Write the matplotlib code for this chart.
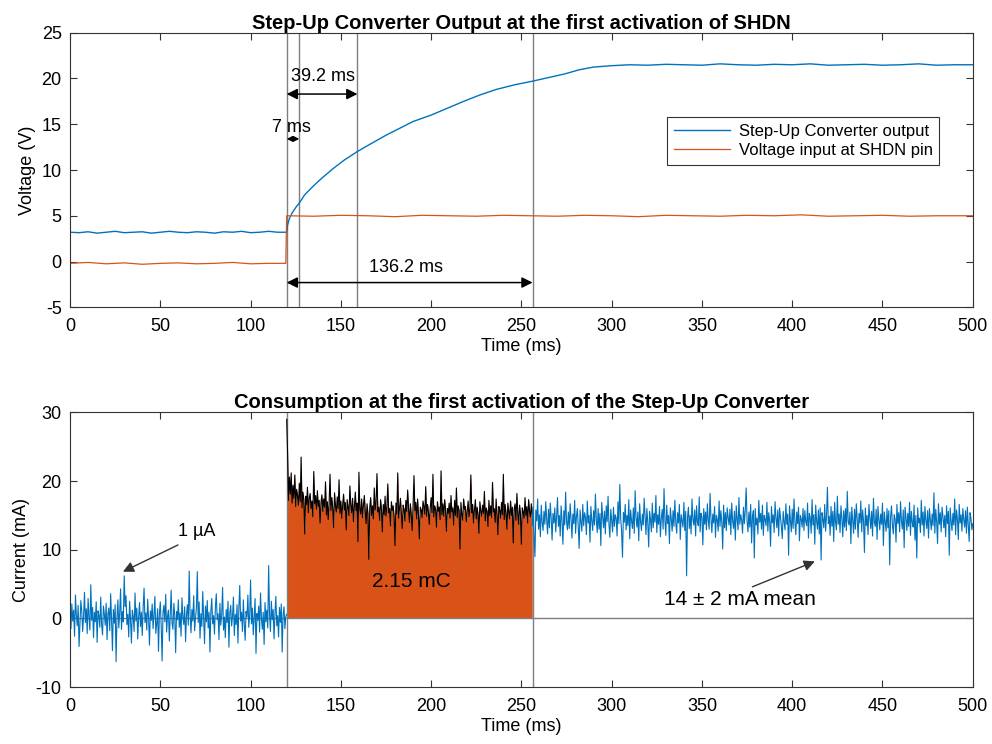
import numpy as np
import matplotlib.pyplot as plt

plt.rcParams['font.family'] = ['Liberation Sans', 'DejaVu Sans']
plt.rcParams['axes.unicode_minus'] = False

BLUE = '#0072BD'
RED = '#D95319'
GRID = '#7f7f7f'

# --- top panel: step-up converter output (V) ---
vt = [0, 5, 10, 15, 20, 25, 30, 35, 40, 45, 50, 55, 60, 65, 70, 75, 80, 85, 90,
      95, 100, 105, 110, 115, 119.5,
      120, 120.5, 121.5, 123, 125, 127, 130, 135, 140, 146, 152, 159, 166, 175,
      183, 190, 200, 209, 218, 227, 236, 246, 256, 265, 274, 282, 290, 300,
      310, 320, 330, 340, 350, 360, 370, 380, 390, 400, 410, 420, 430, 440,
      450, 460, 470, 480, 490, 500]
vout = [3.2, 3.15, 3.25, 3.1, 3.2, 3.3, 3.15, 3.2, 3.25, 3.1, 3.2, 3.3, 3.2,
        3.15, 3.25, 3.2, 3.1, 3.25, 3.2, 3.3, 3.15, 3.2, 3.3, 3.2, 3.2,
        3.2, 4.0, 4.7, 5.3, 5.9, 6.4, 7.3, 8.3, 9.2, 10.2, 11.1, 12.0, 12.8, 13.8,
        14.6, 15.3, 16.0, 16.75, 17.5, 18.2, 18.8, 19.3, 19.7, 20.1, 20.5, 20.95, 21.25, 21.4,
        21.5, 21.45, 21.55, 21.5, 21.45, 21.6, 21.5, 21.45, 21.55, 21.5, 21.6, 21.45,
        21.5, 21.55, 21.45, 21.5, 21.6, 21.45, 21.5, 21.5]
st = [0, 10, 20, 30, 40, 50, 60, 70, 80, 90, 100, 110, 119.5,
      120, 135, 150, 165, 180, 195, 210, 225, 240, 255, 270, 285, 300, 315,
      330, 345, 360, 375, 390, 405, 420, 435, 450, 465, 480, 500]
shdn = [-0.2, -0.1, -0.25, -0.15, -0.3, -0.2, -0.15, -0.25, -0.2, -0.1, -0.25, -0.2, -0.2,
        5.0, 4.95, 5.05, 5.0, 4.9, 5.05, 5.0, 4.95, 5.05, 5.0, 4.95, 5.05,
        5.0, 4.9, 5.05, 5.0, 4.95, 5.05, 5.0, 5.1, 4.95, 5.0, 5.05, 4.95, 5.0, 5.0]

v_marks = [120, 127, 159.2, 256.2]

# --- bottom panel: current consumption (mA), 0.5 ms steps ---
i_off = [
    0.8, -1.5, 2.1, -0.4, 1.2, -2.6, 3.4, 0.5, -1.1, 1.9, -4.1, -0.8, 2.6, 1.0, -1.9, 0.3, 3.8, -0.6, 1.4, -2.2,
    2.9, 0.2, -1.7, 4.9, -0.3, 1.6, -2.8, 0.9, -0.5, 2.4, -3.5, 1.1, 0.4, -1.3, 3.1, -0.9, -2.4, 1.8, 0.6, -1.0,
    2.2, -3.1, 0.7, 1.5, -1.8, 3.6, -0.2, -4.7, 1.3, -0.7, 2.0, -6.3, 0.1, 2.7, -1.4, 0.8, 4.3, -1.6, 1.0, -0.5,
    6.2, 1.7, 3.3, -0.9, 0.6, -2.7, 2.5, -0.1, -3.6, 1.2, 0.3, -1.9, 3.7, -0.4, 1.5, -3.0, 0.2, 2.3, -1.2, 0.9,
    -2.5, 1.6, 4.4, -0.6, 0.8, -1.7, 2.8, 0.1, -3.9, 1.1, -0.3, 2.1, -1.5, 0.5, 3.2, -2.2, -0.8, 1.4, -4.8, 0.7,
    2.4, -1.1, -6.2, 0.9, 1.9, -0.5, 3.5, -2.0, 0.3, 1.2, -3.3, 0.6, 4.1, -0.7, -1.6, 2.2, 0.4, -5.0, 1.0, -0.2,
    2.7, -1.3, 0.8, -2.6, 3.0, 0.2, -0.9, 1.7, -3.4, 0.5, 2.0, -1.0, 6.9, 0.6, -2.1, 1.3, -0.4, 3.3, -1.8, 0.1,
    1.5, 6.8, -0.6, 2.4, -2.9, 0.7, -1.2, 3.9, 0.3, -3.7, 1.8, -0.5, 2.6, -1.4, 0.9, -4.9, 1.1, 2.9, -0.8, 0.4,
    -2.3, 1.6, 3.6, -0.2, 0.7, -3.1, 2.2, -1.0, 0.5, 4.5, -1.7, 0.2, -2.8, 1.3, -0.6, 2.5, -4.2, 0.8, 1.9, -1.1,
    0.3, 3.1, -2.5, 0.6, -0.9, 2.0, -3.6, 1.4, 4.8, -0.4, 0.9, -1.9, 2.7, -0.7, -3.2, 1.0, 0.2, 3.4, -1.3, 0.5,
    5.6, -0.8, 1.5, -2.4, 0.4, 2.9, -5.1, 0.7, -0.3, 1.8, -2.0, 3.7, 0.1, -1.6, 0.9, -3.8, 2.3, -0.5, 1.2, -1.4,
    7.7, 0.6, -1.9, 2.5, -0.2, 1.3, -3.0, 0.8, 3.2, -1.1, 0.4, -2.7, 1.6, -0.6, 2.1, -4.9, 0.5, 1.7, -1.5, 0.3,
    0.6]
i_on = [
    29.0, 24.0, 17.2, 20.6, 18.1, 21.2, 16.8, 19.4, 17.5, 20.9, 16.3, 18.8, 17.9, 16.5, 19.7, 17.0, 23.5, 16.1, 18.4, 17.3,
    12.3, 17.8, 16.6, 19.1, 15.4, 17.5, 18.2, 16.0, 17.1, 14.8, 21.4, 16.7, 17.9, 15.9, 18.6, 16.3, 17.2, 13.9, 16.9, 18.0,
    15.6, 17.4, 16.2, 19.9, 15.1, 17.0, 14.4, 16.8, 21.0, 15.7, 17.6, 16.1, 13.2, 18.3, 16.4, 15.5, 17.7, 16.0, 20.2, 15.3,
    17.1, 14.6, 16.5, 18.1, 15.8, 16.9, 12.9, 17.3, 16.2, 15.0, 19.3, 16.6, 15.4, 17.5, 14.1, 16.3, 18.4, 15.7, 16.8, 11.2,
    21.3, 16.0, 15.2, 17.4, 14.7, 16.5, 17.9, 15.6, 13.8, 16.7, 15.3, 8.6, 16.1, 17.6, 15.0, 16.4, 14.5, 19.0, 15.8, 16.9,
    21.1, 15.5, 16.2, 14.3, 17.3, 15.9, 12.6, 16.6, 15.1, 17.8, 14.9, 16.3, 19.6, 15.4, 16.0, 13.5, 17.0, 15.7, 16.4, 14.8,
    10.6, 16.8, 15.2, 21.2, 14.6, 16.1, 17.5, 15.3, 13.1, 16.5, 15.9, 14.2, 17.2, 15.6, 18.7, 16.0, 14.0, 16.7, 15.1, 12.8,
    16.4, 20.8, 15.7, 16.9, 14.5, 17.4, 15.0, 11.6, 16.2, 15.8, 14.7, 17.1, 16.3, 15.2, 19.2, 14.9, 16.6, 15.5, 13.7, 16.1,
    17.6, 15.4, 21.0, 14.8, 16.4, 15.9, 13.3, 17.0, 15.6, 16.2, 14.4, 21.5, 15.1, 16.7, 14.9, 17.3, 15.8, 12.7, 16.0, 15.3,
    16.8, 14.6, 17.9, 15.5, 16.1, 13.6, 17.2, 15.0, 19.0, 14.7, 16.4, 15.7, 10.1, 16.9, 15.2, 14.3, 17.4, 15.9, 16.3, 14.1,
    15.6, 17.1, 14.8, 16.0, 20.9, 15.4, 16.6, 13.9, 15.8, 17.3, 14.5, 16.2, 15.1, 12.4, 17.0, 15.7, 14.9, 16.5, 15.3, 18.5,
    14.2, 16.1, 15.6, 13.4, 17.2, 15.0, 16.4, 14.7, 19.8, 15.5, 16.0, 14.0, 17.4, 15.2, 12.2, 16.3, 15.8, 14.6, 16.9, 15.1,
    21.0, 14.4, 16.6, 15.3, 13.0, 16.8, 15.7, 14.5, 17.1, 15.0, 16.2, 11.0, 15.9, 16.7, 14.3, 18.2, 15.4, 13.7, 16.5, 15.2,
    10.8, 16.1, 15.5, 14.6, 17.6, 15.0, 16.3, 13.9, 17.3, 15.6, 14.8, 16.7, 15.2]
i_after = [
    13.5, 16.2, 12.1, 9.0, 15.8, 14.2, 17.4, 13.0, 15.1, 11.9, 16.5, 14.0, 12.8, 15.6, 13.7, 17.0, 14.4, 12.3, 15.9, 13.2,
    16.8, 14.6, 11.4, 15.3, 13.9, 16.1, 12.6, 14.8, 17.6, 13.4, 15.0, 12.0, 16.4, 14.3, 10.8, 15.7, 13.6, 18.4, 14.1, 12.9,
    15.5, 13.1, 16.7, 14.5, 11.7, 15.2, 13.8, 17.2, 12.4, 14.9, 16.0, 13.3, 10.2, 15.8, 14.0, 12.7, 16.6, 13.5, 15.4, 14.7,
    12.2, 17.1, 13.9, 15.0, 11.1, 16.3, 14.2, 12.8, 15.7, 13.6, 18.1, 14.4, 12.5, 16.0, 13.0, 15.3, 10.6, 16.9, 14.8, 13.2,
    15.6, 12.3, 16.4, 14.1, 17.8, 13.7, 11.8, 15.9, 14.3, 12.6, 16.2, 13.4, 15.1, 14.6, 12.0, 17.0, 13.8, 19.5, 14.5, 12.7,
    8.9, 15.4, 14.0, 16.6, 12.9, 15.0, 13.5, 17.3, 11.6, 15.8, 14.2, 13.1, 16.1, 12.4, 18.6, 14.7, 13.3, 15.5, 11.3, 16.7,
    14.1, 12.8, 15.2, 13.6, 17.5, 14.9, 12.2, 16.0, 13.9, 10.4, 15.6, 14.4, 12.6, 16.8, 13.2, 15.3, 14.0, 17.9, 12.5, 15.1,
    13.7, 16.3, 11.9, 14.6, 15.9, 13.0, 18.9, 14.3, 12.1, 16.5, 13.8, 15.0, 10.9, 16.1, 14.5, 12.7, 15.7, 13.4, 17.2, 14.0,
    12.4, 15.4, 13.9, 16.6, 11.5, 15.1, 14.2, 13.3, 16.9, 12.8, 15.6, 6.2, 14.7, 16.2, 13.1, 15.0, 12.3, 17.4, 14.4, 13.6,
    15.8, 12.0, 16.4, 14.1, 13.5, 17.7, 12.6, 15.3, 14.8, 10.7, 16.0, 13.7, 15.5, 12.9, 16.7, 14.3, 13.0, 18.2, 14.6, 12.5,
    15.2, 13.9, 16.3, 11.8, 15.0, 14.4, 12.7, 17.1, 13.4, 15.7, 14.0, 10.1, 16.5, 13.2, 15.4, 12.8, 16.1, 14.7, 13.6, 15.9,
    12.2, 16.8, 14.2, 13.1, 15.6, 11.4, 16.4, 14.5, 12.9, 17.6, 13.7, 15.1, 14.3, 12.4, 16.2, 13.8, 15.8, 19.0, 14.1, 12.6,
    15.5, 13.3, 16.6, 11.0, 14.9, 15.7, 8.8, 16.0, 13.6, 14.6, 12.3, 17.2, 14.0, 15.3, 13.0, 16.5, 12.1, 15.0, 14.4, 13.5,
    16.9, 12.7, 15.4, 14.2, 10.5, 16.3, 13.9, 15.1, 12.5, 17.0, 14.6, 13.2, 15.8, 12.0, 16.1, 14.8, 13.4, 11.6, 15.6, 14.1,
    12.9, 16.7, 13.7, 15.2, 9.2, 16.4, 14.3, 12.6, 15.9, 13.1, 17.4, 14.0, 12.2, 15.5, 13.8, 16.2, 11.3, 15.0, 14.5, 13.3,
    16.0, 12.8, 15.7, 14.1, 13.5, 16.8, 11.7, 15.3, 14.7, 12.4, 17.3, 13.6, 15.1, 10.8, 16.5, 14.2, 13.0, 15.8, 12.3, 16.1,
    8.5, 15.4, 14.4, 13.2, 16.6, 12.7, 15.0, 19.1, 13.8, 14.9, 12.1, 16.3, 13.4, 15.6, 11.2, 16.9, 14.0, 12.9, 17.8, 13.7,
    15.2, 12.5, 16.4, 14.6, 11.9, 15.7, 13.3, 16.0, 12.8, 18.5, 14.1, 13.6, 15.5, 10.9, 16.2, 14.3, 12.4, 15.9, 13.0, 16.7,
    14.5, 11.8, 15.3, 13.9, 17.1, 12.6, 15.8, 14.2, 9.6, 16.1, 13.5, 15.0, 12.2, 16.6, 14.7, 13.1, 15.6, 12.0, 17.5, 14.0,
    13.4, 15.9, 11.5, 16.3, 14.4, 12.9, 15.2, 13.7, 16.8, 10.6, 15.5, 14.1, 12.7, 16.0, 13.2, 15.7, 7.8, 14.8, 16.4, 13.6,
    12.3, 15.1, 14.5, 11.1, 16.6, 13.8, 15.4, 12.6, 17.0, 14.2, 13.0, 15.8, 10.3, 16.2, 14.7, 12.8, 15.3, 13.4, 16.9, 12.1,
    15.6, 14.0, 13.3, 16.5, 11.4, 15.0, 8.8, 16.1, 13.9, 14.6, 12.5, 17.2, 13.6, 15.5, 12.0, 16.3, 14.3, 13.1, 15.7, 11.7,
    16.0, 14.4, 12.9, 15.2, 13.5, 18.3, 12.4, 15.9, 14.1, 10.9, 16.7, 13.7, 15.4, 12.6, 16.2, 14.8, 13.2, 15.0, 11.9, 16.4,
    13.8, 15.6, 9.2, 16.1, 14.2, 12.8, 15.3, 13.6, 17.4, 12.2, 15.8, 14.5, 11.5, 16.6, 13.9, 15.1, 12.7, 16.0, 14.4, 13.3,
    15.7, 12.4, 16.2, 13.8, 11.2, 15.4, 14.6, 12.9, 13.8]

t_off = np.linspace(0, 120, len(i_off))
t_on = np.linspace(120, 256, len(i_on))
t_after = np.linspace(256, 500, len(i_after))

i_marks = [120, 256.2]


def style_axes(ax):
    ax.tick_params(direction='in', top=True, right=True, length=5,
                   labelsize=13, color='#333333', width=0.8)
    ax.tick_params(axis='x', pad=8)
    ax.tick_params(axis='y', pad=6)
    for s in ax.spines.values():
        s.set_color('#333333')
        s.set_linewidth(0.8)


def dim_arrow(ax, x0, x1, y, scale=16):
    ax.annotate('', xy=(x1, y), xytext=(x0, y),
                arrowprops=dict(arrowstyle='<|-|>', color='black', lw=1.1,
                                mutation_scale=scale, shrinkA=0, shrinkB=0))


def point_arrow(ax, tail, head):
    ax.annotate('', xy=head, xytext=tail,
                arrowprops=dict(arrowstyle='-|>', color='#333333', lw=1.0,
                                mutation_scale=16, shrinkA=0, shrinkB=0))


fig = plt.figure(figsize=(9.92, 7.44), dpi=100)
ax1 = fig.add_axes([0.0706, 0.587, 0.910, 0.369])
ax2 = fig.add_axes([0.0706, 0.0766, 0.910, 0.369])

# top panel
for xm in v_marks:
    ax1.axvline(xm, color=GRID, lw=1.0)
ax1.plot(vt, vout, color=BLUE, lw=1.0, label='Step-Up Converter output')
ax1.plot(st, shdn, color=RED, lw=0.9, label='Voltage input at SHDN pin')
ax1.set_xlim(0, 500)
ax1.set_ylim(-5, 25)
ax1.set_xticks(np.arange(0, 501, 50))
ax1.set_yticks(np.arange(-5, 26, 5))
ax1.set_xlabel('Time (ms)', fontsize=13, labelpad=2)
ax1.set_ylabel('Voltage (V)', fontsize=13, labelpad=4)
ax1.set_title('Step-Up Converter Output at the first activation of SHDN',
              fontsize=14.5, fontweight='bold', pad=3)
style_axes(ax1)
leg = ax1.legend(loc='upper right', bbox_to_anchor=(0.963, 0.693), fontsize=12,
                 fancybox=False, framealpha=1, edgecolor='#333333',
                 handlelength=3.4, handletextpad=0.5, borderpad=0.4,
                 labelspacing=0.25, borderaxespad=0)
leg.get_frame().set_linewidth(0.8)

dim_arrow(ax1, 120, 159.2, 18.3)
ax1.text(140, 20.2, '39.2 ms', fontsize=13, ha='center', va='center')
dim_arrow(ax1, 120, 127, 13.4, scale=8)
ax1.text(122.7, 14.6, '7 ms', fontsize=13, ha='center', va='center')
dim_arrow(ax1, 120, 256.2, -2.3)
ax1.text(186, -0.6, '136.2 ms', fontsize=13, ha='center', va='center')

# bottom panel
ax2.axhline(0, color=GRID, lw=1.0)
for xm in i_marks:
    ax2.axvline(xm, color=GRID, lw=1.0)
ax2.plot(t_off, i_off, color=BLUE, lw=0.8)
ax2.fill_between(t_on, i_on, 0, color=RED, lw=0)
ax2.plot(t_on, i_on, color='black', lw=0.8)
ax2.plot(t_after, i_after, color=BLUE, lw=0.8)
ax2.set_xlim(0, 500)
ax2.set_ylim(-10, 30)
ax2.set_xticks(np.arange(0, 501, 50))
ax2.set_yticks(np.arange(-10, 31, 10))
ax2.set_xlabel('Time (ms)', fontsize=13, labelpad=2)
ax2.set_ylabel('Current (mA)', fontsize=13, labelpad=4)
ax2.set_title('Consumption at the first activation of the Step-Up Converter',
              fontsize=14.5, fontweight='bold', pad=3)
style_axes(ax2)

ax2.text(189, 5.4, '2.15 mC', fontsize=15, ha='center', va='center')
ax2.text(70, 12.6, '1 µA', fontsize=13, ha='center', va='center')
point_arrow(ax2, (59.8, 10.7), (29.3, 6.8))
ax2.text(371, 2.7, '14 ± 2 mA mean', fontsize=15, ha='center', va='center')
point_arrow(ax2, (378, 4.6), (412.5, 8.3))

fig.savefig('out.png', dpi=100)
